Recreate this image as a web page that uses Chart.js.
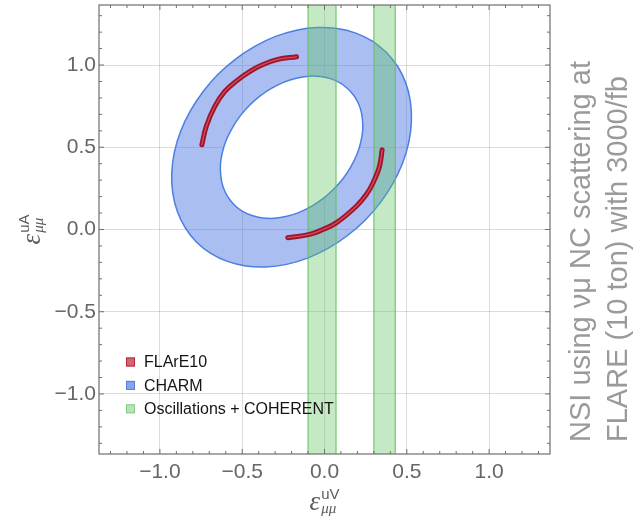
<!DOCTYPE html>
<html>
<head>
<meta charset="utf-8">
<script src="https://cdn.jsdelivr.net/npm/chart.js@4.4.1/dist/chart.umd.min.js"></script>
<style>
  html, body { margin: 0; padding: 0; background: #ffffff; }
  #wrap { width: 639px; height: 518px; position: relative; }
</style>
</head>
<body>
<div id="wrap"><canvas id="c" width="639" height="518"></canvas></div>
<script>
// Axis ticks (labelled) and the minor frame ticks
const xTicks = [-1.0, -0.5, 0.0, 0.5, 1.0];
const yTicks = [-1.0, -0.5, 0.0, 0.5, 1.0];
const minorTicks = [-1.3, -1.2, -1.1, -0.9, -0.8, -0.7, -0.6, -0.4, -0.3, -0.2, -0.1,
                     0.1, 0.2, 0.3, 0.4, 0.6, 0.7, 0.8, 0.9, 1.1, 1.2, 1.3];

// CHARM allowed band: outer and inner boundary of the ring (eps_V, eps_A)
const charmOuter = [
  [0.377, 1.077], [0.291, 1.145], [0.190, 1.194], [0.077, 1.222], [-0.044, 1.228], [-0.170, 1.212],
  [-0.297, 1.174], [-0.421, 1.115], [-0.538, 1.038], [-0.645, 0.945], [-0.738, 0.838], [-0.815, 0.721],
  [-0.874, 0.597], [-0.912, 0.470], [-0.928, 0.344], [-0.922, 0.223], [-0.894, 0.110], [-0.845, 0.009],
  [-0.777, -0.077], [-0.691, -0.145], [-0.590, -0.194], [-0.477, -0.222], [-0.356, -0.228], [-0.230, -0.212],
  [-0.103, -0.174], [0.021, -0.115], [0.138, -0.038], [0.245, 0.055], [0.338, 0.162], [0.415, 0.279],
  [0.474, 0.403], [0.512, 0.530], [0.528, 0.656], [0.522, 0.777], [0.494, 0.890], [0.445, 0.991]
];
const charmInner = [
  [0.149, 0.849], [0.100, 0.888], [0.041, 0.916], [-0.025, 0.930], [-0.097, 0.932], [-0.171, 0.920],
  [-0.246, 0.896], [-0.320, 0.859], [-0.391, 0.812], [-0.455, 0.755], [-0.512, 0.691], [-0.559, 0.620],
  [-0.596, 0.546], [-0.620, 0.471], [-0.632, 0.397], [-0.630, 0.325], [-0.616, 0.259], [-0.588, 0.200],
  [-0.549, 0.151], [-0.500, 0.112], [-0.441, 0.085], [-0.375, 0.070], [-0.304, 0.068], [-0.229, 0.080],
  [-0.154, 0.104], [-0.080, 0.141], [-0.009, 0.188], [0.055, 0.245], [0.112, 0.309], [0.159, 0.380],
  [0.196, 0.454], [0.220, 0.529], [0.232, 0.603], [0.230, 0.675], [0.216, 0.741], [0.188, 0.800]
];

// FLArE10 allowed arcs
const flareUpper = [
  [-0.745, 0.515], [-0.718, 0.628], [-0.668, 0.746], [-0.607, 0.838], [-0.526, 0.910],
  [-0.455, 0.960], [-0.384, 0.999], [-0.284, 1.034], [-0.170, 1.050]
];
const flareLower = [
  [-0.223, -0.050], [-0.091, -0.030], [-0.010, 0.000], [0.071, 0.040], [0.192, 0.140],
  [0.253, 0.211], [0.293, 0.280], [0.334, 0.383], [0.350, 0.484]
];

// Oscillations + COHERENT: allowed eps_V intervals
const oscBands = [[-0.10, 0.07], [0.30, 0.43]];

const legendText = ['FLArE10', 'CHARM', 'Oscillations + COHERENT'];

const toXY = a => a.map(p => ({ x: p[0], y: p[1] }));
const closed = a => toXY(a.concat([a[0]]));
const band = b => toXY([[b[0], -2], [b[0], 2], [b[1], 2], [b[1], -2], [b[0], -2]]);
const fmt = v => (v < 0 ? '\u2212' : '') + Math.abs(v).toFixed(1);

const FONT = '"Liberation Sans", Arial, sans-serif';
const SERIF = '"Liberation Serif", "Times New Roman", serif';

const legendSwatches = [
  { fill: 'rgba(196,52,66,0.75)', stroke: '#b22a3c' },
  { fill: 'rgba(80,125,230,0.7)', stroke: '#4f7fe0' },
  { fill: 'rgba(110,200,110,0.5)', stroke: '#86cf86' }
];

// Frame with inward ticks on all four sides
const framePlugin = {
  id: 'frame',
  afterDraw(chart) {
    const { ctx, chartArea: a, scales } = chart;
    ctx.save();
    ctx.strokeStyle = '#6f6f6f';
    ctx.lineWidth = 1.2;
    ctx.strokeRect(a.left, a.top, a.right - a.left, a.bottom - a.top);
    ctx.lineWidth = 1;
    const tick = (v, len) => {
      const px = scales.x.getPixelForValue(v);
      const py = scales.y.getPixelForValue(v);
      ctx.beginPath();
      ctx.moveTo(px, a.bottom); ctx.lineTo(px, a.bottom - len);
      ctx.moveTo(px, a.top); ctx.lineTo(px, a.top + len);
      ctx.moveTo(a.left, py); ctx.lineTo(a.left + len, py);
      ctx.moveTo(a.right, py); ctx.lineTo(a.right - len, py);
      ctx.stroke();
    };
    xTicks.forEach(v => tick(v, 5));
    minorTicks.forEach(v => tick(v, 3));
    ctx.restore();
  }
};

// Legend in the lower-left corner of the plot
const legendPlugin = {
  id: 'cornerLegend',
  afterDraw(chart) {
    const { ctx } = chart;
    ctx.save();
    ctx.font = '16px ' + FONT;
    ctx.textBaseline = 'middle';
    ctx.textAlign = 'left';
    legendText.forEach((t, i) => {
      const cy = 362 + i * 23.4;
      const s = legendSwatches[i];
      ctx.fillStyle = s.fill;
      ctx.fillRect(126, cy - 4.5, 9, 9);
      ctx.strokeStyle = s.stroke;
      ctx.lineWidth = 1;
      ctx.strokeRect(126.5, cy - 4, 8, 8);
      ctx.fillStyle = '#141414';
      ctx.fillText(t, 144, cy + 1);
    });
    ctx.restore();
  }
};

function drawEps(ctx, sup, sub) {
  ctx.font = 'italic 27px ' + SERIF;
  const w0 = ctx.measureText('\u03B5').width;
  ctx.font = '15px ' + FONT;
  const w1 = ctx.measureText(sup).width;
  const total = w0 + 1 + w1;
  const x0 = -total / 2;
  ctx.font = 'italic 27px ' + SERIF;
  ctx.fillText('\u03B5', x0, 0);
  ctx.font = '15px ' + FONT;
  ctx.fillText(sup, x0 + w0 + 1, -11);
  ctx.font = 'italic 15px ' + SERIF;
  ctx.fillText(sub, x0 + w0 + 1, 3);
}

// Axis titles and the side caption
const titlePlugin = {
  id: 'titles',
  afterDraw(chart) {
    const { ctx, chartArea: a } = chart;
    ctx.save();
    ctx.fillStyle = '#5c5c5c';
    ctx.textAlign = 'left';
    ctx.textBaseline = 'alphabetic';
    ctx.save();
    ctx.translate((a.left + a.right) / 2, 510);
    drawEps(ctx, 'uV', '\u03BC\u03BC');
    ctx.restore();
    ctx.save();
    ctx.translate(40, (a.top + a.bottom) / 2);
    ctx.rotate(-Math.PI / 2);
    drawEps(ctx, 'uA', '\u03BC\u03BC');
    ctx.restore();

    ctx.fillStyle = '#9a9a9a';
    ctx.font = '29px ' + FONT;
    ctx.save();
    ctx.translate(590, 442);
    ctx.rotate(-Math.PI / 2);
    ctx.fillText('NSI using \u03BD\u03BC NC scattering at', 0, 0);
    ctx.restore();
    ctx.save();
    ctx.translate(626.5, 442);
    ctx.rotate(-Math.PI / 2);
    ctx.fillText('FLARE (10 ton) with 3000/fb', 0, 0);
    ctx.restore();
    ctx.restore();
  }
};

const gridStyle = { color: 'rgba(0,0,0,0.14)', lineWidth: 1, drawTicks: false };
const tickFont = { family: FONT, size: 21 };
const arc = { borderCapStyle: 'round', fill: false, tension: 0.4, clip: 0 };
const ring = { borderColor: '#4b7fe2', borderWidth: 1.5, fill: 'shape', tension: 0.3 };

new Chart(document.getElementById('c'), {
  type: 'line',
  data: {
    datasets: [
      Object.assign({ label: 'FLArE10', data: toXY(flareUpper), borderColor: '#cf4e5c', borderWidth: 1.3, order: 0 }, arc),
      Object.assign({ label: 'FLArE10', data: toXY(flareLower), borderColor: '#cf4e5c', borderWidth: 1.3, order: 0 }, arc),
      Object.assign({ label: 'FLArE10', data: toXY(flareUpper), borderColor: '#a1132b', borderWidth: 5, order: 1 }, arc),
      Object.assign({ label: 'FLArE10', data: toXY(flareLower), borderColor: '#a1132b', borderWidth: 5, order: 1 }, arc),
      { label: 'Oscillations + COHERENT', data: band(oscBands[0]), borderColor: 'rgba(95,195,95,0.85)',
        backgroundColor: 'rgba(100,198,100,0.38)', borderWidth: 1.2, fill: 'shape', clip: 0, order: 2 },
      { label: 'Oscillations + COHERENT', data: band(oscBands[1]), borderColor: 'rgba(95,195,95,0.85)',
        backgroundColor: 'rgba(100,198,100,0.38)', borderWidth: 1.2, fill: 'shape', clip: 0, order: 2 },
      Object.assign({ label: 'CHARM', data: closed(charmInner), backgroundColor: '#ffffff', order: 3 }, ring),
      Object.assign({ label: 'CHARM', data: closed(charmOuter), backgroundColor: 'rgba(78,120,228,0.48)', order: 4 }, ring)
    ]
  },
  options: {
    responsive: false,
    animation: false,
    devicePixelRatio: 1,
    layout: { autoPadding: false, padding: { left: 0, right: 89, top: 5, bottom: 0 } },
    elements: { point: { radius: 0, hoverRadius: 0 }, line: { tension: 0 } },
    plugins: { legend: { display: false }, tooltip: { enabled: false } },
    events: [],
    scales: {
      x: {
        type: 'linear', min: -1.37, max: 1.37, z: 1,
        afterBuildTicks: s => { s.ticks = xTicks.map(v => ({ value: v })); },
        afterFit: s => { s.height = 64; s.paddingLeft = 0; s.paddingRight = 0; },
        grid: gridStyle,
        border: { display: false },
        ticks: { color: '#666666', font: tickFont, padding: 6, maxRotation: 0, autoSkip: false,
                 callback: v => fmt(v) }
      },
      y: {
        type: 'linear', min: -1.365, max: 1.365, z: 1,
        afterBuildTicks: s => { s.ticks = yTicks.map(v => ({ value: v })); },
        afterFit: s => { s.width = 99; s.paddingTop = 0; s.paddingBottom = 0; },
        grid: gridStyle,
        border: { display: false },
        ticks: { color: '#666666', font: tickFont, padding: 3, autoSkip: false,
                 callback: v => fmt(v) }
      }
    }
  },
  plugins: [framePlugin, legendPlugin, titlePlugin]
});
</script>
</body>
</html>
